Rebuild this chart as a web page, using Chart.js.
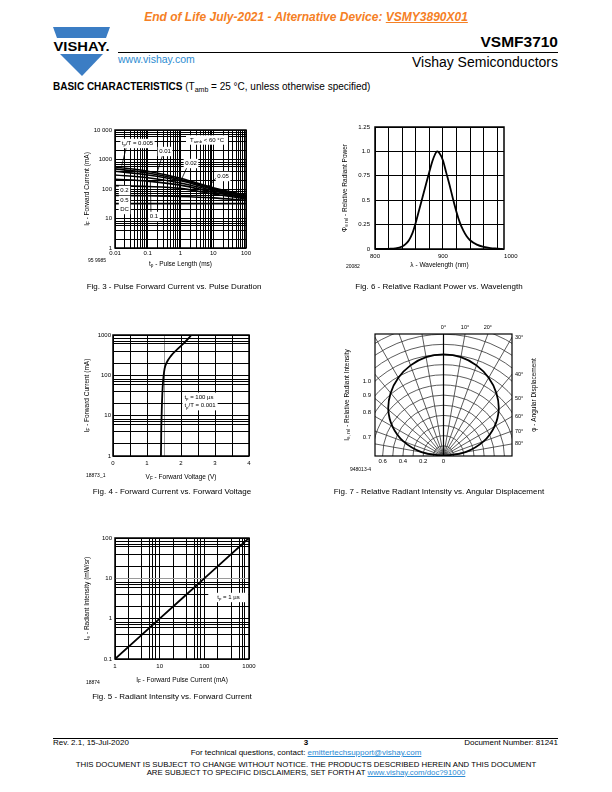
<!DOCTYPE html>
<html>
<head>
<meta charset="utf-8">
<title>VSMF3710 - Basic Characteristics</title>
<script src="https://cdn.jsdelivr.net/npm/chart.js@4.4.1/dist/chart.umd.min.js"></script>
<style>
  body { margin: 0; background: #fff; }
  #page { position: relative; width: 612px; height: 792px; overflow: hidden; font-family: 'Liberation Sans', Arial, sans-serif; color: #000; }
  .t { position: absolute; white-space: nowrap; line-height: 1; }
  .cap { position: absolute; width: 300px; text-align: center; white-space: nowrap; line-height: 1; font-size: 8px; }
  .id { position: absolute; font-size: 5px; white-space: nowrap; line-height: 1; }
  .s { font-size: 70%; vertical-align: -0.3em; }
  .fig { position: absolute; }
  a { color: #2a8ad4; }
</style>
</head>
<body>
<div id="page">
  <div class="t" style="left:0;width:612px;text-align:center;top:11px;font-size:12px;font-weight:bold;font-style:italic;color:#f58025">End of Life July-2021 - Alternative Device: <span style="text-decoration:underline">VSMY3890X01</span></div>
  <svg style="position:absolute;left:53px;top:27px" width="58" height="50" viewBox="0 0 58 50">
    <polygon points="0,0 57,0 53,11 4,11" fill="#3b7dc4"/>
    <text x="0.5" y="24" font-family="Liberation Sans, Arial, sans-serif" font-weight="bold" font-size="13" textLength="56" lengthAdjust="spacingAndGlyphs">VISHAY.</text>
    <polygon points="7,27 50,27 29,49" fill="#3b7dc4"/>
  </svg>
  <div class="t" style="right:54px;top:34px;font-size:15.5px;font-weight:bold">VSMF3710</div>
  <div style="position:absolute;left:118px;top:52px;width:440px;height:1px;background:#000"></div>
  <div class="t" style="left:118px;top:54px;font-size:10.5px;color:#2e8bd1">www.vishay.com</div>
  <div class="t" style="right:54px;top:55px;font-size:14px">Vishay Semiconductors</div>
  <div class="t" style="left:53px;top:82px;font-size:10px"><b>BASIC CHARACTERISTICS</b> (T<span class="s">amb</span> = 25 °C, unless otherwise specified)</div>

  <div class="fig" id="box3"><canvas id="fig3"></canvas></div>
  <div class="fig" id="box6"><canvas id="fig6"></canvas></div>
  <div class="fig" id="box4"><canvas id="fig4"></canvas></div>
  <div class="fig" id="box7"><canvas id="fig7"></canvas></div>
  <div class="fig" id="box5"><canvas id="fig5"></canvas></div>

  <div class="id" style="left:88px;top:258px">95 9985</div>
  <div class="id" style="left:346px;top:264px">20082</div>
  <div class="id" style="left:86px;top:473px">18873_1</div>
  <div class="id" style="left:350px;top:467px">948013-4</div>
  <div class="id" style="left:86px;top:680px">18874</div>

  <div class="cap" style="left:24px;top:283px">Fig. 3 - Pulse Forward Current vs. Pulse Duration</div>
  <div class="cap" style="left:289px;top:283px">Fig. 6 - Relative Radiant Power vs. Wavelength</div>
  <div class="cap" style="left:22px;top:488px">Fig. 4 - Forward Current vs. Forward Voltage</div>
  <div class="cap" style="left:289px;top:488px">Fig. 7 - Relative Radiant Intensity vs. Angular Displacement</div>
  <div class="cap" style="left:22px;top:693px">Fig. 5 - Radiant Intensity vs. Forward Current</div>

  <div style="position:absolute;left:53px;top:738px;width:505px;height:1px;background:#000"></div>
  <div class="t" style="left:53px;top:739px;font-size:8px">Rev. 2.1, 15-Jul-2020</div>
  <div class="t" style="left:0;width:612px;text-align:center;top:739px;font-size:8px;font-weight:bold">3</div>
  <div class="t" style="right:54px;top:739px;font-size:8px">Document Number: 81241</div>
  <div class="t" style="left:0;width:612px;text-align:center;top:749px;font-size:8px">For technical questions, contact: <a href="#">emittertechsupport@vishay.com</a></div>
  <div class="t" style="left:0;width:612px;text-align:center;top:761px;font-size:7.8px">THIS DOCUMENT IS SUBJECT TO CHANGE WITHOUT NOTICE. THE PRODUCTS DESCRIBED HEREIN AND THIS DOCUMENT</div>
  <div class="t" style="left:0;width:612px;text-align:center;top:769px;font-size:7.8px">ARE SUBJECT TO SPECIFIC DISCLAIMERS, SET FORTH AT <a href="#">www.vishay.com/doc?91000</a></div>
</div>

<script>
// ---- Fig. 3: pulse forward current vs pulse length (one array per duty cycle)
const fig3PulseMs = [0.01, 0.1, 1, 10, 100];
const fig3Duty0005 = [560, 400, 230, 110, 62];
const fig3Duty001 = [480, 350, 210, 104, 58];
const fig3Duty002 = [400, 300, 190, 97, 55];
const fig3Duty005 = [300, 240, 160, 88, 52];
const fig3Duty01 = [215, 185, 135, 78, 49];
const fig3Duty02 = [130, 122, 105, 68, 46];
const fig3Duty05 = [60, 59, 56, 50, 41];
const fig3DutyDC = [32, 32, 32, 32, 32];
const fig3XTicks = [0.01, 0.1, 1, 10, 100];
const fig3XLabels = ['0.01', '0.1', '1', '10', '100'];
const fig3YTicks = [1, 10, 100, 1000, 10000];
const fig3YLabels = ['1', '10', '100', '1000', '10 000'];

// ---- Fig. 6: relative radiant power vs wavelength
const fig6Wavelength = [800, 820, 830, 840, 845, 850, 855, 860, 865, 870, 875, 880, 885, 890, 892, 895, 900, 905, 910, 915, 920, 925, 930, 935, 940, 950, 960, 970, 980, 988];
const fig6Power = [0, 0.002, 0.006, 0.025, 0.05, 0.09, 0.16, 0.27, 0.4, 0.53, 0.66, 0.79, 0.91, 0.99, 1.0, 0.98, 0.91, 0.78, 0.65, 0.51, 0.38, 0.27, 0.19, 0.13, 0.09, 0.045, 0.022, 0.01, 0.004, 0];
const fig6XGrid = [800, 820, 840, 860, 880, 900, 920, 940, 960, 980];
const fig6XTicks = [800, 900];
const fig6XLabels = ['800', '900'];
const fig6XOuterTicks = [1000];
const fig6XOuterLabels = ['1000'];
const fig6YTicks = [0, 0.25, 0.5, 0.75, 1, 1.25];
const fig6YLabels = ['0', '0.25', '0.5', '0.75', '1.0', '1.25'];

// ---- Fig. 4: forward current vs forward voltage
const fig4Current = [1, 2, 5, 10, 20, 50, 100, 150, 200, 300, 500, 700, 1000];
const fig4Voltage = [1.41, 1.415, 1.42, 1.43, 1.44, 1.46, 1.49, 1.52, 1.57, 1.7, 1.96, 2.14, 2.31];
const fig4XGrid = [0, 0.5, 1, 1.5, 2, 2.5, 3, 3.5, 4];
const fig4XTicks = [0, 1, 2, 3, 4];
const fig4XLabels = ['0', '1', '2', '3', '4'];
const fig4YTicks = [1, 10, 100, 1000];
const fig4YLabels = ['1', '10', '100', '1000'];

// ---- Fig. 5: radiant intensity vs forward pulse current
const fig5Current = [1, 10, 100, 1000];
const fig5Intensity = [0.1, 1, 10, 100];
const fig5XTicks = [1, 10, 100, 1000];
const fig5XLabels = ['1', '10', '100', '1000'];
const fig5YTicks = [0.1, 1, 10, 100];
const fig5YLabels = ['0.1', '1', '10', '100'];

// ---- Fig. 7: relative radiant intensity vs angular displacement
const fig7Angle = [0, 10, 20, 30, 40, 50, 60, 70, 80, 90];
const fig7Intensity = [1.0, 0.99, 0.95, 0.89, 0.81, 0.71, 0.58, 0.42, 0.22, 0];
const fig7Arcs = [0.1, 0.2, 0.3, 0.4, 0.5, 0.6, 0.7, 0.8, 0.9, 1.0, 1.1, 1.2, 1.3];
const fig7Spokes = [10, 20, 30, 40, 50, 60, 70, 80];
const fig7BottomTicks = [-0.6, -0.4, -0.2, 0];
const fig7BottomLabels = ['0.6', '0.4', '0.2', '0'];
const fig7LeftRadii = [1.0, 0.9, 0.8, 0.7];
const fig7LeftLabels = ['1.0', '0.9', '0.8', '0.7'];
const fig7TopAngles = [0, 10, 20];
const fig7RightAngles = [30, 40, 50, 60, 70, 80];

const FONT = "'Liberation Sans', Arial, sans-serif";
// room around each plot area, and the part of it that the axes take
const PAD = { left: 46, top: 16, right: 36, bottom: 34 };
const AXIS = { left: 30, bottom: 14, top: 12, right: 16 };
const HALF_W = 0.675, TOP_R = 1.202;

Chart.defaults.font.family = FONT;
Chart.defaults.font.size = 6;
Chart.defaults.color = '#000';
Chart.defaults.animation = false;
Chart.defaults.plugins.legend.display = false;
Chart.defaults.plugins.tooltip.enabled = false;

/** position a chart box so its plot area lands on the given rect */
function place(id, plot) {
  const box = document.getElementById(id);
  box.style.left = (plot[0] - PAD.left) + 'px';
  box.style.top = (plot[1] - PAD.top) + 'px';
  box.style.width = (plot[2] - plot[0] + PAD.left + PAD.right) + 'px';
  box.style.height = (plot[3] - plot[1] + PAD.top + PAD.bottom) + 'px';
  return box.querySelector('canvas');
}

function padding(top, right) {
  return {
    left: PAD.left - AXIS.left,
    bottom: PAD.bottom - AXIS.bottom,
    top: PAD.top - (top ? AXIS.top : 0),
    right: PAD.right - (right ? AXIS.right : 0)
  };
}

function logGrid(min, max, mults) {
  const out = [];
  for (let d = min; d < max; d = +(d * 10).toPrecision(6)) {
    out.push(d);
    mults.forEach(m => out.push(+(d * m).toPrecision(6)));
  }
  out.push(max);
  return out;
}

function pts(xs, ys) {
  return xs.map((x, i) => ({ x, y: ys[i] }));
}

/** text with subscripts: parts = [[text, isSub], ...] */
function richWidth(ctx, parts, size) {
  let w = 0;
  parts.forEach(p => {
    ctx.font = (p[1] ? size * 0.72 : size) + 'px ' + FONT;
    w += ctx.measureText(p[0]).width;
  });
  return w;
}

function rich(ctx, parts, x, y, size, opts = {}) {
  ctx.save();
  ctx.translate(x, y);
  if (opts.rotate) ctx.rotate(-Math.PI / 2);
  ctx.textBaseline = 'middle';
  ctx.textAlign = 'left';
  ctx.fillStyle = '#000';
  let cx = opts.align === 'left' ? 0 : -richWidth(ctx, parts, size) / 2;
  parts.forEach(p => {
    ctx.font = (p[1] ? size * 0.72 : size) + 'px ' + FONT;
    ctx.fillText(p[0], cx, p[1] ? size * 0.3 : 0);
    cx += ctx.measureText(p[0]).width;
  });
  ctx.restore();
}

/** axis with explicit grid positions and labelled ticks */
function axis(type, min, max, grid, tickVals, tickLabels, extra = {}) {
  const position = extra.position;
  const a = {
    type, min, max,
    grid: { color: '#000', lineWidth: 1, drawTicks: false },
    border: { display: false },
    afterBuildTicks: s => { s.ticks = grid.map(v => ({ value: v })); },
    afterFit: s => {
      if (s.isHorizontal()) s.height = position === 'top' ? AXIS.top : AXIS.bottom;
      else s.width = position === 'right' ? AXIS.right : AXIS.left;
    },
    ticks: {
      autoSkip: false, maxRotation: 0, minRotation: 0, padding: 3,
      callback: v => { const i = tickVals.indexOf(v); return i < 0 ? '' : tickLabels[i]; }
    }
  };
  if (extra.grid) Object.assign(a.grid, extra.grid);
  if (extra.ticks) Object.assign(a.ticks, extra.ticks);
  if (position) a.position = position;
  return a;
}

function curve(data, width) {
  return { data, showLine: true, borderColor: '#000', borderWidth: width || 1.7, pointRadius: 0, cubicInterpolationMode: 'monotone' };
}

/** frame, notes, leaders and axis titles */
const sheet = {
  id: 'sheet',
  afterDatasetsDraw(chart, args, o) {
    const { ctx, chartArea: a, scales } = chart;
    const sx = scales.x, sy = scales.y;
    ctx.save();
    ctx.strokeStyle = '#000';
    ctx.lineWidth = 0.8;
    (o.leaders || []).forEach(l => {
      ctx.beginPath();
      ctx.moveTo(sx.getPixelForValue(l[0]), sy.getPixelForValue(l[1]));
      ctx.lineTo(sx.getPixelForValue(l[2]), sy.getPixelForValue(l[3]));
      ctx.stroke();
    });
    (o.notes || []).forEach(n => {
      const size = 6, lh = size * 1.4;
      const px = sx.getPixelForValue(n.x), py = sy.getPixelForValue(n.y);
      const w = Math.max(...n.lines.map(p => richWidth(ctx, p, size)));
      const h = n.lines.length * lh;
      const padX = n.padX || 1.5;
      const left = n.align === 'left' ? px : px - w / 2;
      ctx.fillStyle = '#fff';
      ctx.fillRect(left - padX, py - h / 2 - 0.5, w + 2 * padX, h + 1);
      n.lines.forEach((p, i) => rich(ctx, p, px, py - h / 2 + lh * (i + 0.5), size, { align: n.align }));
    });
    ctx.lineWidth = o.frame || 1.5;
    ctx.strokeRect(a.left, a.top, a.width, a.height);
    (o.outer || []).forEach(e => {
      ctx.font = '6px ' + FONT;
      ctx.fillStyle = '#000';
      ctx.textAlign = 'center';
      ctx.textBaseline = 'middle';
      ctx.fillText(e.text, sx.getPixelForValue(e.value), a.bottom + e.off);
    });
    ctx.restore();
    const midY = (a.top + a.bottom) / 2, midX = (a.left + a.right) / 2;
    if (o.yTitle) rich(ctx, o.yTitle, a.left - o.yOff, midY, 6.5, { rotate: true });
    if (o.rTitle) rich(ctx, o.rTitle, a.right + o.rOff, midY, 6.5, { rotate: true });
    if (o.xTitle) rich(ctx, o.xTitle, midX, a.bottom + o.xOff, 6.5);
  }
};

/** polar grid for Fig. 7 */
const polarGrid = {
  id: 'polarGrid',
  beforeDatasetsDraw(chart, args, o) {
    const { ctx, chartArea: a, scales: { x, y } } = chart;
    const cx = x.getPixelForValue(0), cy = y.getPixelForValue(0);
    const rx = x.getPixelForValue(1) - cx, ry = cy - y.getPixelForValue(1);
    ctx.save();
    ctx.beginPath();
    ctx.rect(a.left, a.top, a.width, a.height);
    ctx.clip();
    ctx.strokeStyle = '#333';
    ctx.lineWidth = 0.8;
    fig7Arcs.forEach(r => {
      ctx.beginPath();
      ctx.ellipse(cx, cy, r * rx, r * ry, 0, Math.PI, 2 * Math.PI);
      ctx.stroke();
    });
    fig7Spokes.forEach(d => {
      const t = d * Math.PI / 180;
      [-1, 1].forEach(s => {
        ctx.beginPath();
        ctx.moveTo(cx, cy);
        ctx.lineTo(x.getPixelForValue(s * Math.sin(t) * 2), y.getPixelForValue(Math.cos(t) * 2));
        ctx.stroke();
      });
    });
    ctx.strokeStyle = '#000';
    ctx.lineWidth = 1.2;
    ctx.beginPath();
    ctx.moveTo(cx, cy);
    ctx.lineTo(cx, a.top);
    ctx.stroke();
    ctx.restore();
  }
};

document.addEventListener('DOMContentLoaded', () => {
  initFig3();
  initFig6();
  initFig4();
  initFig7();
  initFig5();
});

function initFig3() {
  const ctx = place('box3', [115, 130, 246, 248]);
  const series = [fig3Duty0005, fig3Duty001, fig3Duty002, fig3Duty005, fig3Duty01, fig3Duty02, fig3Duty05, fig3DutyDC];
  new Chart(ctx, {
    type: 'scatter',
    data: { datasets: series.map(s => curve(pts(fig3PulseMs, s), 1.6)) },
    options: {
      responsive: true, maintainAspectRatio: false,
      layout: { padding: padding(false, false) },
      scales: {
        x: axis('logarithmic', 0.01, 100, logGrid(0.01, 100, [2, 3, 4, 5, 6, 7, 8, 9]), fig3XTicks, fig3XLabels, { ticks: { padding: 2 } }),
        y: axis('logarithmic', 1, 10000, logGrid(1, 10000, [2, 4, 6, 7, 8]), fig3YTicks, fig3YLabels, { ticks: { padding: 3 } })
      },
      plugins: {
        sheet: {
          yTitle: [['I'], ['F', 1], [' - Forward Current (mA)']], yOff: 28,
          xTitle: [['t'], ['p', 1], [' - Pulse Length (ms)']], xOff: 16,
          leaders: [[0.0227, 2870, 0.016, 620], [0.286, 1455, 0.196, 380], [1.61, 570, 1.09, 220], [12.7, 249, 6.76, 110], [0.1256, 14.2, 0.12, 190]],
          notes: [
            { x: 0.0486, y: 3486, lines: [[['t'], ['p', 1], ['/T = 0.005']]] },
            { x: 6.44, y: 4580, lines: [[['T'], ['amb', 1], [' < 60 °C']]], padX: 4 },
            { x: 0.336, y: 1866, lines: [[['0.01']]] },
            { x: 2.09, y: 731, lines: [[['0.02']]] },
            { x: 19.9, y: 265, lines: [[['0.05']]] },
            { x: 0.0195, y: 89, lines: [[['0.2']]] },
            { x: 0.0195, y: 40.7, lines: [[['0.5']]] },
            { x: 0.0195, y: 20.2, lines: [[['DC']]] },
            { x: 0.155, y: 11.7, lines: [[['0.1']]] }
          ]
        }
      }
    },
    plugins: [sheet]
  });
}

function initFig6() {
  const ctx = place('box6', [375, 127, 504, 249]);
  new Chart(ctx, {
    type: 'scatter',
    data: { datasets: [curve(pts(fig6Wavelength, fig6Power), 1.8)] },
    options: {
      responsive: true, maintainAspectRatio: false,
      layout: { padding: padding(false, false) },
      scales: {
        x: axis('linear', 800, 990, fig6XGrid, fig6XTicks, fig6XLabels, { ticks: { padding: 3.5 } }),
        y: axis('linear', 0, 1.25, fig6YTicks, fig6YTicks, fig6YLabels, { ticks: { padding: 5 } })
      },
      plugins: {
        sheet: {
          yTitle: [['Φ'], ['e rel', 1], [' - Relative Radiant Power']], yOff: 30,
          xTitle: [['λ - Wavelength (nm)']], xOff: 16,
          outer: fig6XOuterTicks.map((v, i) => ({ value: v, text: fig6XOuterLabels[i], off: 7 }))
        }
      }
    },
    plugins: [sheet]
  });
}

function initFig4() {
  const ctx = place('box4', [113, 335, 249, 456]);
  new Chart(ctx, {
    type: 'scatter',
    data: { datasets: [curve(pts(fig4Voltage, fig4Current), 1.8)] },
    options: {
      responsive: true, maintainAspectRatio: false,
      layout: { padding: padding(false, false) },
      scales: {
        x: axis('linear', 0, 4, fig4XGrid, fig4XTicks, fig4XLabels, {
          ticks: { padding: 4 },
          grid: { color: c => (c.tick && c.tick.value === 1.5 ? '#9a9a9a' : '#000') }
        }),
        y: axis('logarithmic', 1, 1000, logGrid(1, 1000, [2, 4, 6, 7, 8]), fig4YTicks, fig4YLabels, { ticks: { padding: 2 } })
      },
      plugins: {
        sheet: {
          yTitle: [['I'], ['F', 1], [' - Forward Current (mA)']], yOff: 26,
          xTitle: [['V'], ['F', 1], [' - Forward Voltage (V)']], xOff: 21,
          notes: [{ x: 2.1, y: 22.5, align: 'left', padX: 2, lines: [[['t'], ['p', 1], [' = 100 µs']], [['t'], ['p', 1], ['/T = 0.001']]] }]
        }
      }
    },
    plugins: [sheet]
  });
}

function initFig5() {
  const ctx = place('box5', [115, 538, 249, 659]);
  new Chart(ctx, {
    type: 'scatter',
    data: { datasets: [curve(pts(fig5Current, fig5Intensity), 1.8)] },
    options: {
      responsive: true, maintainAspectRatio: false,
      layout: { padding: padding(false, false) },
      scales: {
        x: axis('logarithmic', 1, 1000, logGrid(1, 1000, [2, 4, 6, 7, 8]), fig5XTicks, fig5XLabels, { ticks: { padding: 4 } }),
        y: axis('logarithmic', 0.1, 100, logGrid(0.1, 100, [2, 4, 6, 7, 8]), fig5YTicks, fig5YLabels, {
          ticks: { padding: 3 },
          grid: { color: c => (c.tick && c.tick.value === 10 ? '#9a9a9a' : '#000') }
        })
      },
      plugins: {
        sheet: {
          yTitle: [['I'], ['e', 1], [' - Radiant Intensity (mW/sr)']], yOff: 28,
          xTitle: [['I'], ['F', 1], [' - Forward Pulse Current (mA)']], xOff: 21,
          notes: [{ x: 347, y: 3.35, padX: 9, lines: [[['t'], ['p', 1], [' = 1 µs']]] }]
        }
      }
    },
    plugins: [sheet]
  });
}

function initFig7() {
  const ctx = place('box7', [375, 334, 512, 456]);
  // polar curve: intensity at each angle, both sides of the axis
  const data = [];
  for (let i = fig7Angle.length - 1; i >= 0; i--) {
    const t = fig7Angle[i] * Math.PI / 180;
    data.push({ x: -fig7Intensity[i] * Math.sin(t), y: fig7Intensity[i] * Math.cos(t) });
  }
  for (let i = 1; i < fig7Angle.length; i++) {
    const t = fig7Angle[i] * Math.PI / 180;
    data.push({ x: fig7Intensity[i] * Math.sin(t), y: fig7Intensity[i] * Math.cos(t) });
  }
  const rad = d => d * Math.PI / 180;
  const leftPos = fig7LeftRadii.map(r => Math.sqrt(r * r - HALF_W * HALF_W));
  const topPos = fig7TopAngles.map(d => TOP_R * Math.tan(rad(d)));
  const rightPos = fig7RightAngles.map(d => HALF_W / Math.tan(rad(d)));
  const bare = (min, max, pos, labels, extra) => {
    const a = axis('linear', min, max, pos, pos, labels, extra);
    a.grid = { display: false, drawTicks: false };
    a.ticks.callback = (v, i) => labels[i];
    return a;
  };
  new Chart(ctx, {
    type: 'scatter',
    data: { datasets: [{ data, showLine: true, borderColor: '#000', borderWidth: 1.8, pointRadius: 0, tension: 0.4 }] },
    options: {
      responsive: true, maintainAspectRatio: false,
      layout: { padding: padding(true, true) },
      scales: {
        x: bare(-HALF_W, HALF_W, fig7BottomTicks, fig7BottomLabels, { ticks: { padding: 2 } }),
        y: bare(0, TOP_R, leftPos, fig7LeftLabels, { ticks: { padding: 4 } }),
        x2: bare(-HALF_W, HALF_W, topPos, fig7TopAngles.map(d => d + '°'), { position: 'top', ticks: { padding: 3, font: { size: 5.5 } } }),
        y2: bare(0, TOP_R, rightPos, fig7RightAngles.map(d => d + '°'), { position: 'right', ticks: { padding: 3, font: { size: 5.5 } } })
      },
      plugins: {
        sheet: {
          frame: 1.2,
          yTitle: [['I'], ['e, rel', 1], [' - Relative Radiant Intensity']], yOff: 28,
          rTitle: [['φ - Angular Displacement']], rOff: 22
        }
      }
    },
    plugins: [polarGrid, sheet]
  });
}
</script>
</body>
</html>
